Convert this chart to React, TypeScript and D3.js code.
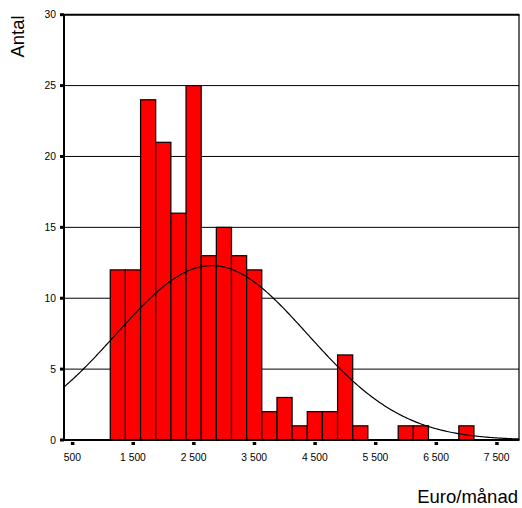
import React from "react";
import * as d3 from "d3";

const binCenters = [1250, 1500, 1750, 2000, 2250, 2500, 2750, 3000, 3250, 3500, 3750, 4000, 4250, 4500, 4750, 5000, 5250, 5500, 5750, 6000, 6250, 6500, 6750, 7000];
const counts = [12, 12, 24, 21, 16, 25, 13, 15, 13, 12, 2, 3, 1, 2, 2, 6, 1, 0, 0, 1, 1, 0, 0, 1];
const binWidth = 250;
const xTickValues = [500, 1500, 2500, 3500, 4500, 5500, 6500, 7500];
const yTickValues = [0, 5, 10, 15, 20, 25, 30];
const curveMean = 2800;
const curveSd = 1580;
const curvePeak = 12.3;

const W = 522;
const H = 508;

export default function App() {
  const x = d3.scaleLinear().domain([362, 7868]).range([64, 519]);
  const y = d3.scaleLinear().domain([0, 30]).range([440, 14.7]);
  const fmt = (v: number) => {
    const s = String(v);
    return s.length > 3 ? s.slice(0, s.length - 3) + " " + s.slice(-3) : s;
  };
  const xs = d3.range(362, 7868, 20).concat([7868]);
  const line = d3
    .line<number>()
    .x((v) => x(v))
    .y((v) => y(curvePeak * Math.exp(-((v - curveMean) ** 2) / (2 * curveSd * curveSd))))
    .curve(d3.curveLinear);
  const font = "'Liberation Sans', Arial, sans-serif";
  return (
    <svg width={W} height={H} style={{ position: "absolute", left: 0, top: 0 }}>
      <rect x={0} y={0} width={W} height={H} fill="#fff" />
      {yTickValues.slice(1, -1).map((t) => (
        <line key={t} x1={64} x2={519} y1={y(t)} y2={y(t)} stroke="#000" strokeWidth={1} />
      ))}
      {binCenters.map((c, i) =>
        counts[i] > 0 ? (
          <rect
            key={c}
            x={x(c - binWidth / 2)}
            y={y(counts[i])}
            width={x(c + binWidth / 2) - x(c - binWidth / 2)}
            height={y(0) - y(counts[i])}
            fill="#ff0000"
            stroke="#000"
            strokeWidth={1.2}
          />
        ) : null
      )}
      <path d={line(xs) || ""} fill="none" stroke="#000" strokeWidth={1.2} />
      <line x1={64} x2={519.5} y1={y(30)} y2={y(30)} stroke="#000" strokeWidth={2} />
      <line x1={519} x2={519} y1={y(30)} y2={y(0)} stroke="#000" strokeWidth={1.2} />
      <line x1={64} x2={64} y1={y(30)} y2={y(0) + 1} stroke="#000" strokeWidth={2} />
      <line x1={63} x2={519.5} y1={y(0)} y2={y(0)} stroke="#000" strokeWidth={2} />
      {yTickValues.map((t) => (
        <g key={t}>
          <rect x={60} y={y(t) - 1.5} width={4} height={3} fill="#000" />
          <text x={56} y={y(t)} dy="0.35em" textAnchor="end" fontFamily={font} fontSize={10.3} fill="#000">
            {t}
          </text>
        </g>
      ))}
      {xTickValues.map((t) => (
        <g key={t}>
          <rect x={x(t) - 1.5} y={442} width={3.5} height={3} fill="#000" />
          <text x={x(t)} y={461} textAnchor="middle" fontFamily={font} fontSize={10.3} fill="#000">
            {fmt(t)}
          </text>
        </g>
      ))}
      <text
        transform="translate(24,36.5) rotate(-90)"
        textAnchor="middle"
        fontFamily={font}
        fontSize={18.5}
        fill="#000"
      >
        Antal
      </text>
      <text x={518} y={503} textAnchor="end" fontFamily={font} fontSize={18.5} fill="#000">
        Euro/månad
      </text>
    </svg>
  );
}
